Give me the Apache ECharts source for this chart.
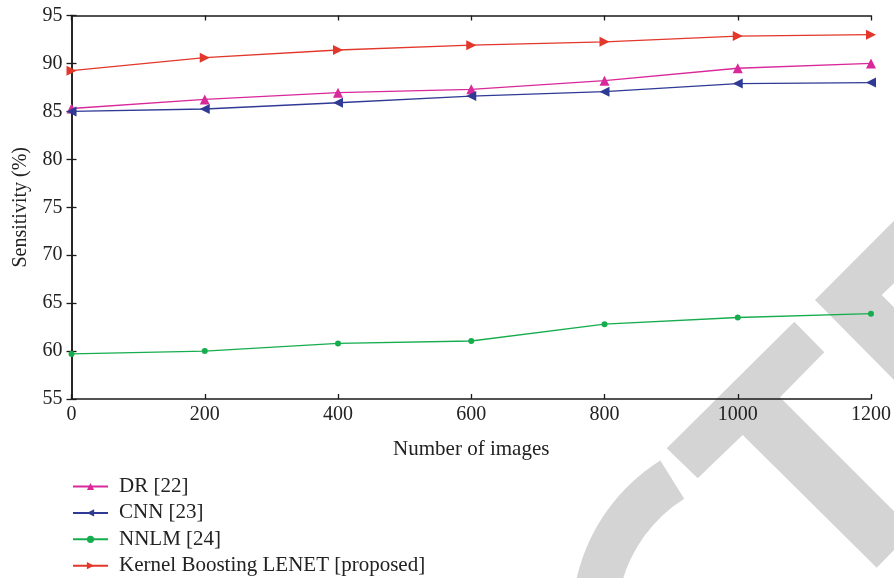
<!DOCTYPE html>
<html><head><meta charset="utf-8">
<script src="https://cdn.jsdelivr.net/npm/echarts@6/dist/echarts.min.js"></script>
<style>html,body{margin:0;padding:0;background:#fff}#c{width:894px;height:578px}</style>
</head><body><div id="c"></div>
<script>
const categories = [0, 200, 400, 600, 800, 1000, 1200];
const drValues = [85.3, 86.25, 86.95, 87.3, 88.2, 89.5, 90.0];
const cnnValues = [85.0, 85.25, 85.9, 86.6, 87.05, 87.9, 88.0];
const nnlmValues = [59.7, 60.0, 60.8, 61.05, 62.8, 63.5, 63.9];
const kblValues = [89.25, 90.6, 91.4, 91.9, 92.25, 92.85, 93.0];
const seriesNames = ['DR [22]', 'CNN [23]', 'NNLM [24]', 'Kernel Boosting LENET [proposed]'];

const font = 'Liberation Serif';
const chart = echarts.init(document.getElementById('c'));
function pairs(v){ return categories.map((x,i)=>[x,v[i]]); }
function mk(name, vals, color, symbol, rot, size){
  return {name, type:'line', data:pairs(vals), symbol, symbolRotate:rot, symbolSize:size, z:5,
    lineStyle:{color, width:1.3}, itemStyle:{color}, animation:false};
}
const axisLine = {show:true, lineStyle:{color:'#1a1a1a', width:1.5}};
const tick = {inside:true, length:5, lineStyle:{color:'#1a1a1a', width:1.3}};
const wm = '#d4d4d4';
chart.setOption({
  animation:false,
  graphic:[
    {type:'polygon', z:-10, silent:true, style:{fill:wm}, shape:{points:[[666.7,448.3],[794.3,321.7],[824.3,352.3],[780,397.3],[894,511.3],[894,550],[876.7,567.7],[742.7,435],[697.7,478.3]]}},
    {type:'polygon', z:-10, silent:true, style:{fill:wm}, shape:{points:[[815,300],[894,220.7],[894,283.3],[881.7,295],[894,307.3],[894,380]]}},
    {type:'sector', z:-10, silent:true, style:{fill:wm}, shape:{cx:760, cy:620, r0:143, r:188, startAngle:150*Math.PI/180, endAngle:238*Math.PI/180, clockwise:true}}
  ],
  grid:{left:71.5, right:22, top:15.5, bottom:179, containLabel:false},
  xAxis:[{type:'value', min:0, max:1200, interval:200, position:'bottom',
    axisLine, axisTick:tick, splitLine:{show:false},
    axisLabel:{fontFamily:font, fontSize:20, color:'#222', margin:6, formatter:v=>String(v)},
    name:'Number of images', nameLocation:'middle', nameGap:40,
    nameTextStyle:{fontFamily:font, fontSize:21, color:'#222'}},
   {type:'value', min:0, max:1200, interval:200, position:'top',
    axisLine, axisTick:tick, axisLabel:{show:false}, splitLine:{show:false}}],
  yAxis:[{type:'value', min:55, max:95, interval:5, position:'left',
    axisLine, axisTick:tick, splitLine:{show:false},
    axisLabel:{fontFamily:font, fontSize:20, color:'#222', margin:9},
    name:'Sensitivity (%)', nameLocation:'middle', nameGap:41, nameRotate:90,
    nameTextStyle:{fontFamily:font, fontSize:20, color:'#222'}},
   {type:'value', min:55, max:95, interval:5, position:'right',
    axisLine, axisTick:tick, axisLabel:{show:false}, splitLine:{show:false}}],
  legend:{orient:'vertical', left:72, top:476, padding:0, itemWidth:35, itemHeight:9, itemGap:5.4,
    textStyle:{fontFamily:font, fontSize:21, color:'#222', padding:[0,0,0,6]}, data:seriesNames},
  series:[
    mk(seriesNames[0], drValues, '#d8289a', 'triangle', 0, 10),
    mk(seriesNames[1], cnnValues, '#2f3a94', 'triangle', 90, 10),
    mk(seriesNames[2], nnlmValues, '#16ad4e', 'circle', 0, 6),
    mk(seriesNames[3], kblValues, '#e2372a', 'triangle', -90, 10)
  ]
});
</script></body></html>
